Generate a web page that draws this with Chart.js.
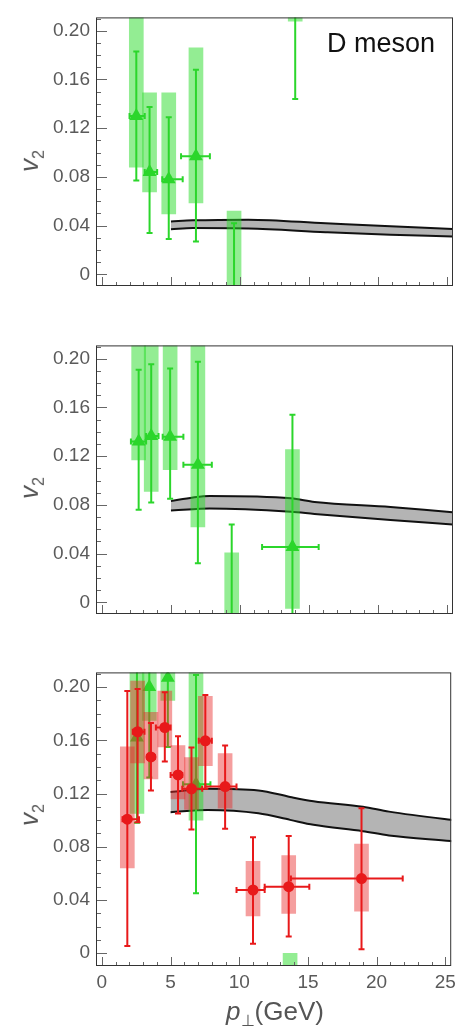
<!DOCTYPE html>
<html>
<head>
<meta charset="utf-8">
<script src="https://cdn.jsdelivr.net/npm/chart.js@4.4.0/dist/chart.umd.min.js"></script>
<style>
  body { margin: 0; background: #fff; }
  #wrap { position: relative; width: 461px; height: 1031px; font-family: 'Liberation Sans', Arial, sans-serif; }
  #wrap canvas { position: absolute; left: 0; }
  .lbl { position: absolute; color: #555; white-space: nowrap; line-height: 1; }
  .ylab { left: 31px; font-size: 26px; transform: translate(-50%, -50%) rotate(-90deg); }
  .ylab sub, .xlab sub { font-size: 0.62em; }
</style>
</head>
<body>
<div id="wrap">
  <canvas id="c1" width="461" height="320" style="top:0"></canvas>
  <canvas id="c2" width="461" height="320" style="top:328px"></canvas>
  <canvas id="c3" width="461" height="376" style="top:655px"></canvas>
  <div class="lbl" style="left:327px;top:30px;font-size:27px;color:#111">D meson</div>
  <div class="lbl ylab" style="top:161px"><i>v</i><sub>2</sub></div>
  <div class="lbl ylab" style="top:488px"><i>v</i><sub>2</sub></div>
  <div class="lbl ylab" style="top:815px"><i>v</i><sub>2</sub></div>
  <div class="lbl xlab" style="left:275px;top:1013px;font-size:26px;transform:translate(-50%,-50%)"><i>p</i><sub>⊥</sub>(GeV)</div>
</div>
<script>
// axis ranges and tick labels
const xMin = -0.43, xMax = 25.43;
const yMin = -0.0096, yMax = 0.211;
const yTickLabels = [0, 0.04, 0.08, 0.12, 0.16, 0.20];
const xTickLabels = [0, 5, 10, 15, 20, 25];

// panel 1 - theory band
const p1BandX = [5.0, 6.6, 10.6, 16.2, 20.9, 25.4, 26];
const p1BandHi = [0.0434, 0.0443, 0.0449, 0.0419, 0.0394, 0.0373, 0.0370];
const p1BandLo = [0.0370, 0.0380, 0.0377, 0.0346, 0.0324, 0.0311, 0.0309];
// panel 1 - green triangles
const p1GX = [2.49, 3.45, 4.84, 6.81, 9.57, 14.0];
const p1GY = [0.13, 0.084, 0.078, 0.097, -0.03, 0.25];
const p1GStatLo = [0.077, 0.034, 0.029, 0.027, -0.1, 0.144];
const p1GStatHi = [0.183, 0.1375, 0.129, 0.168, 0.042, 0.36];
const p1GSysLo = [0.088, 0.0676, 0.0495, 0.0586, -0.12, 0.208];
const p1GSysHi = [0.3, 0.149, 0.149, 0.186, 0.052, 0.3];
const p1GXLo = [2.0, 3.1, 4.37, 5.73, null, null];
const p1GXHi = [3.1, 4.0, 5.85, 7.82, null, null];

// panel 2 - theory band
const p2BandX = [5.0, 6.6, 7.8, 13.7, 15.4, 20.9, 25.4, 26];
const p2BandHi = [0.0831, 0.0861, 0.0873, 0.0854, 0.0824, 0.0782, 0.0740, 0.0735];
const p2BandLo = [0.0755, 0.0765, 0.0770, 0.0743, 0.0726, 0.0677, 0.0640, 0.0635];
// panel 2 - green triangles
const p2GX = [2.66, 3.57, 4.94, 6.95, 9.4, 13.8];
const p2GY = [0.132, 0.1365, 0.136, 0.113, -0.03, 0.0455];
const p2GStatLo = [0.076, 0.082, 0.085, 0.032, -0.1, -0.06];
const p2GStatHi = [0.191, 0.1956, 0.192, 0.1976, 0.064, 0.154];
const p2GSysLo = [0.117, 0.091, 0.109, 0.062, -0.1, -0.005];
const p2GSysHi = [0.3, 0.3, 0.3, 0.3, 0.0406, 0.1255];
const p2GXLo = [2.1, 3.2, 4.4, 5.9, null, 11.6];
const p2GXHi = [3.2, 4.1, 5.9, 7.96, null, 15.7];

// panel 3 - theory band
const p3BandX = [5.0, 7.7, 11.4, 13.7, 15.4, 19.0, 20.9, 25.4, 26];
const p3BandHi = [0.1211, 0.1235, 0.1223, 0.1174, 0.1142, 0.1100, 0.1064, 0.1002, 0.0995];
const p3BandLo = [0.1059, 0.1076, 0.1051, 0.1002, 0.0965, 0.0917, 0.0885, 0.0843, 0.0837];
// panel 3 - green triangles
const p3GX = [2.55, 3.45, 4.8, 6.85, 13.7];
const p3GY = [0.162, 0.2, 0.207, 0.127, -0.05];
const p3GStatLo = [0.098, 0.132, 0.155, 0.045, -0.12];
const p3GStatHi = [0.25, 0.27, 0.26, 0.209, -0.015];
const p3GSysLo = [0.105, 0.175, 0.19, 0.1, -0.1];
const p3GSysHi = [0.3, 0.3, 0.3, 0.3, 0.0];
const p3GXLo = [null, null, null, 5.9, null];
const p3GXHi = [null, null, null, 7.9, null];
// panel 3 - red circles
const p3RX = [1.85, 2.6, 3.57, 4.58, 5.54, 6.52, 7.53, 8.97, 11.0, 13.6, 18.9];
const p3RY = [0.1007, 0.1664, 0.1475, 0.1696, 0.134, 0.1235, 0.1596, 0.1252, 0.0475, 0.05, 0.0561];
const p3RStatLo = [0.0054, 0.0985, 0.1223, 0.144, 0.105, 0.093, 0.1235, 0.0936, 0.0071, 0.0125, 0.003];
const p3RStatHi = [0.197, 0.1985, 0.173, 0.196, 0.163, 0.1546, 0.194, 0.156, 0.0872, 0.088, 0.109];
const p3RSysLo = [0.064, 0.143, 0.131, 0.155, 0.116, 0.108, 0.141, 0.109, 0.028, 0.03, 0.0316];
const p3RSysHi = [0.155, 0.2044, 0.181, 0.197, 0.156, 0.147, 0.193, 0.15, 0.069, 0.0733, 0.082];
const p3RXLo = [1.5, 2.25, 3.3, 3.93, 5.0, 5.85, 7.05, 7.53, 9.8, 11.85, 13.76];
const p3RXHi = [2.7, 3.1, 3.85, 5.0, 5.85, 7.3, 8.0, 9.8, 11.85, 15.1, 21.9];

const GREEN = '#2bd62b', GREEN_BOX = 'rgba(40,220,40,0.5)';
const RED = '#e8191a', RED_BOX = 'rgba(232,40,40,0.45)';

// vertical error bars: lo-hi segments separated by gaps
function vBars(xs, lo, hi) {
  const d = [];
  xs.forEach((x, i) => d.push({x, y: lo[i]}, {x, y: hi[i]}, {x, y: null}));
  return d;
}
function hBars(ys, lo, hi) {
  const d = [];
  ys.forEach((y, i) => {
    if (lo[i] === null) return;
    d.push({x: lo[i], y}, {x: hi[i], y}, {x: hi[i], y: null});
  });
  return d;
}

function series(xs, ys, statLo, statHi, sysLo, sysHi, xLo, xHi, color, boxColor, style, base) {
  return [
    { type: 'bar', data: xs.map((x, i) => ({x, y: [sysLo[i], sysHi[i]]})),
      backgroundColor: boxColor, borderWidth: 0, barThickness: 14, grouped: false, order: base + 3, clip: 0 },
    { type: 'line', data: vBars(xs, statLo, statHi), borderColor: color, borderWidth: 2,
      pointStyle: 'line', pointRadius: 3, pointBorderColor: color, pointBorderWidth: 2, order: base + 1, clip: 0 },
    { type: 'line', data: hBars(ys, xLo, xHi), borderColor: color, borderWidth: 2,
      pointStyle: 'line', pointRotation: 90, pointRadius: 3, pointBorderColor: color, pointBorderWidth: 2, order: base + 1, clip: 0 },
    { type: 'scatter', data: xs.map((x, i) => ({x, y: ys[i]})), pointStyle: style,
      pointRadius: style === 'triangle' ? 8 : 5.5, backgroundColor: color, borderColor: color, borderWidth: 0, order: base, clip: 0 }
  ];
}

function band(xs, hi, lo) {
  return [
    { type: 'line', data: xs.map((x, i) => ({x, y: hi[i]})), borderColor: '#111', borderWidth: 2,
      pointRadius: 0, cubicInterpolationMode: 'monotone', order: 20, clip: 0 },
    { type: 'line', data: xs.map((x, i) => ({x, y: lo[i]})), borderColor: '#111', borderWidth: 2,
      pointRadius: 0, cubicInterpolationMode: 'monotone', fill: '-1', backgroundColor: '#b4b4b4', order: 20, clip: 0 }
  ];
}

// frame and inward ticks
const framePlugin = {
  id: 'frame',
  afterDraw(chart) {
    const {ctx, chartArea: a, scales: {x, y}} = chart;
    ctx.save();
    ctx.strokeStyle = '#666';
    ctx.lineWidth = 1;
    ctx.beginPath();
    for (let k = 0; k <= 26; k++) {
      const px = Math.round(x.getPixelForValue(k)) + 0.5;
      if (px < a.left || px > a.right) continue;
      const len = k % 5 === 0 ? 9 : 4;
      ctx.moveTo(px, a.bottom);
      ctx.lineTo(px, a.bottom - len);
    }
    for (let k = 0; k <= 21; k++) {
      const py = Math.round(y.getPixelForValue(k / 100)) + 0.5;
      const len = k % 4 === 0 ? 11 : 5;
      ctx.moveTo(a.left, py);
      ctx.lineTo(a.left + len, py);
    }
    ctx.stroke();
    ctx.strokeStyle = '#333';
    ctx.strokeRect(a.left + 0.5, a.top + 0.5, a.right - a.left - 1, a.bottom - a.top - 1);
    ctx.restore();
  }
};

function makeChart(id, datasets, showX, padBottom) {
  new Chart(document.getElementById(id), {
    type: 'scatter',
    data: { datasets },
    plugins: [framePlugin],
    options: {
      responsive: false,
      animation: false,
      devicePixelRatio: 1,
      events: [],
      layout: { padding: { left: 0, right: 5, top: 11, bottom: padBottom } },
      plugins: { legend: { display: false }, tooltip: { enabled: false } },
      scales: {
        x: {
          type: 'linear', min: xMin, max: xMax, offset: false, display: showX,
          grid: { display: false, drawTicks: false }, border: { display: false },
          afterFit: s => { s.height = 25; },
          ticks: {
            stepSize: 5, includeBounds: false, autoSkip: false, maxRotation: 0, padding: 5,
            color: '#5a5a5a', font: { size: 19, family: "'Liberation Sans', Arial, sans-serif" },
            callback: v => xTickLabels.includes(v) ? String(v) : null
          }
        },
        y: {
          type: 'linear', min: yMin, max: yMax,
          grid: { display: false, drawTicks: false }, border: { display: false },
          afterFit: s => { s.width = 96; },
          ticks: {
            stepSize: 0.04, includeBounds: false, autoSkip: false, padding: 6,
            color: '#5a5a5a', font: { size: 19, family: "'Liberation Sans', Arial, sans-serif" },
            callback: v => {
              const t = yTickLabels.find(q => Math.abs(q - v) < 1e-6);
              return t === undefined ? null : (t === 0 ? '0' : t.toFixed(2));
            }
          }
        }
      }
    }
  });
}

makeChart('c1', [
  ...band(p1BandX, p1BandHi, p1BandLo),
  ...series(p1GX, p1GY, p1GStatLo, p1GStatHi, p1GSysLo, p1GSysHi, p1GXLo, p1GXHi, GREEN, GREEN_BOX, 'triangle', 4)
], false, 9);

makeChart('c2', [
  ...band(p2BandX, p2BandHi, p2BandLo),
  ...series(p2GX, p2GY, p2GStatLo, p2GStatHi, p2GSysLo, p2GSysHi, p2GXLo, p2GXHi, GREEN, GREEN_BOX, 'triangle', 4)
], false, 9);

makeChart('c3', [
  ...band(p3BandX, p3BandHi, p3BandLo),
  ...series(p3GX, p3GY, p3GStatLo, p3GStatHi, p3GSysLo, p3GSysHi, p3GXLo, p3GXHi, GREEN, GREEN_BOX, 'triangle', 4),
  ...series(p3RX, p3RY, p3RStatLo, p3RStatHi, p3RSysLo, p3RSysHi, p3RXLo, p3RXHi, RED, RED_BOX, 'circle', 0)
], true, 40);
</script>
</body>
</html>
